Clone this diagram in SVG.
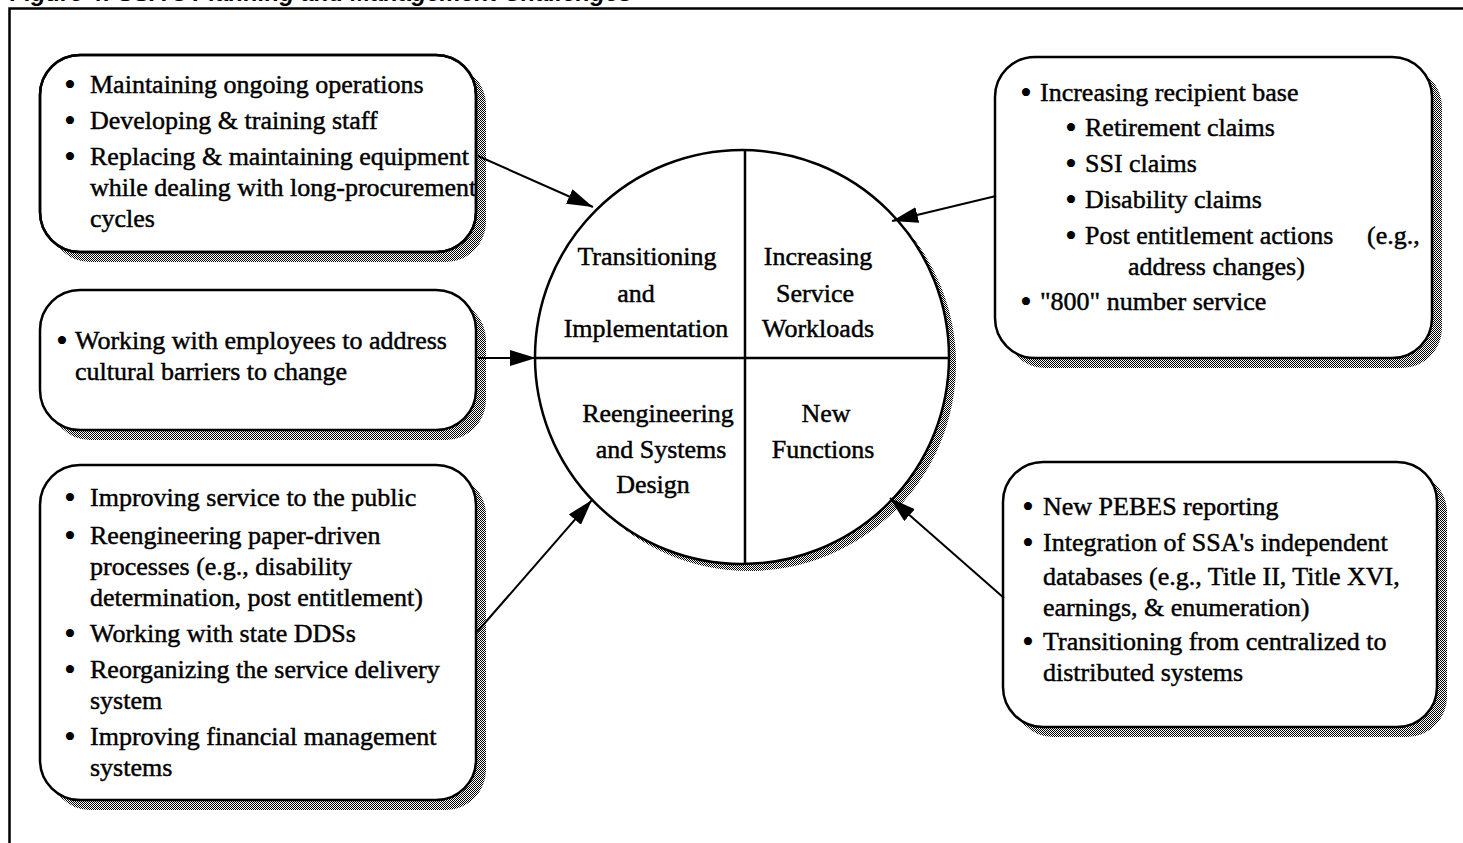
<svg xmlns="http://www.w3.org/2000/svg" width="1463" height="843" viewBox="0 0 1463 843">
  <style>
    .t { font-family: "Liberation Serif", "Times New Roman", serif; font-size: 26px; fill: #000; stroke: #000; stroke-width: 0.45; }
    .b { font-family: "Liberation Serif", "Times New Roman", serif; font-size: 34px; fill: #000; }
    .c { text-anchor: middle; }
    .title { font-family: "Liberation Sans", Arial, sans-serif; font-size: 24px; font-weight: bold; font-style: italic; fill: #000; }
    .box { fill: #fff; stroke: #000; stroke-width: 2.5; }
    .shadow { fill: url(#dither); }
    .frame { stroke: #000; stroke-width: 2.5; fill: none; }
    .conn { stroke: #000; stroke-width: 2; fill: none; marker-end: url(#arrow); }
  </style>
  <defs>
    <pattern id="dither" width="2" height="2" patternUnits="userSpaceOnUse">
      <rect width="2" height="2" fill="#fff"/>
      <rect width="1" height="1" fill="#000"/>
      <rect x="1" y="1" width="1" height="1" fill="#000"/>
    </pattern>
    <marker id="arrow" markerUnits="userSpaceOnUse" markerWidth="28" markerHeight="18" refX="26" refY="8" orient="auto">
      <path d="M0,0 L26,8 L0,16 Z" fill="#000"/>
    </marker>
    <clipPath id="clip-b1">
      <rect x="40" y="55" width="436" height="197" rx="40"/>
    </clipPath>
  </defs>

  <rect width="1463" height="843" fill="#fff"/>

  <!-- page heading, trimmed at the top edge -->
  <text class="title" x="10" y="1">Figure 4: SSA's Planning and Management Challenges</text>

  <!-- figure frame -->
  <path class="frame" d="M9.5,843 V8.5 H1463"/>

  <!-- central circle with four quadrants -->
  <g id="hub">
    <circle cx="749" cy="364" r="207" class="shadow"/>
    <circle cx="742" cy="357" r="207" fill="#fff" stroke="#000" stroke-width="2.5"/>
    <line x1="745" y1="150" x2="745" y2="564" stroke="#000" stroke-width="2.5"/>
    <line x1="535" y1="358" x2="949" y2="358" stroke="#000" stroke-width="2.5"/>
    <text class="t c" x="647" y="265">Transitioning</text>
    <text class="t c" x="636" y="302">and</text>
    <text class="t c" x="646" y="337">Implementation</text>
    <text class="t c" x="818" y="265">Increasing</text>
    <text class="t c" x="815" y="302">Service</text>
    <text class="t c" x="818" y="337">Workloads</text>
    <text class="t c" x="658" y="422">Reengineering</text>
    <text class="t c" x="661" y="458">and Systems</text>
    <text class="t c" x="653" y="493">Design</text>
    <text class="t c" x="826" y="422">New</text>
    <text class="t c" x="823" y="458">Functions</text>
  </g>

  <!-- top-left box -->
  <g id="box-operations">
    <rect class="shadow" x="50" y="65" width="436" height="197" rx="40"/>
    <rect class="box" x="40" y="55" width="436" height="197" rx="40"/>
    <g clip-path="url(#clip-b1)">
      <text class="b" x="64" y="96">•</text>
      <text class="t" x="90" y="93">Maintaining ongoing operations</text>
      <text class="b" x="64" y="132">•</text>
      <text class="t" x="90" y="129">Developing &amp; training staff</text>
      <text class="b" x="64" y="168">•</text>
      <text class="t" x="90" y="165">Replacing &amp; maintaining equipment</text>
      <text class="t" x="90" y="196">while dealing with long-procurement</text>
      <text class="t" x="90" y="227">cycles</text>
    </g>
    <rect x="40" y="55" width="436" height="197" rx="40" fill="none" stroke="#000" stroke-width="2.5"/>
  </g>

  <!-- middle-left box -->
  <g id="box-culture">
    <rect class="shadow" x="50" y="300" width="436" height="140" rx="40"/>
    <rect class="box" x="40" y="290" width="436" height="140" rx="40"/>
    <text class="b" x="56" y="352">•</text>
    <text class="t" x="75" y="349">Working with employees to address</text>
    <text class="t" x="75" y="380">cultural barriers to change</text>
  </g>

  <!-- bottom-left box -->
  <g id="box-reengineering">
    <rect class="shadow" x="50" y="475" width="436" height="335" rx="40"/>
    <rect class="box" x="40" y="465" width="436" height="335" rx="40"/>
    <text class="b" x="64" y="509">•</text>
    <text class="t" x="90" y="506">Improving service to the public</text>
    <text class="b" x="64" y="547">•</text>
    <text class="t" x="90" y="544">Reengineering paper-driven</text>
    <text class="t" x="90" y="575">processes (e.g., disability</text>
    <text class="t" x="90" y="606">determination, post entitlement)</text>
    <text class="b" x="64" y="645">•</text>
    <text class="t" x="90" y="642">Working with state DDSs</text>
    <text class="b" x="64" y="681">•</text>
    <text class="t" x="90" y="678">Reorganizing the service delivery</text>
    <text class="t" x="90" y="709">system</text>
    <text class="b" x="64" y="748">•</text>
    <text class="t" x="90" y="745">Improving financial management</text>
    <text class="t" x="90" y="776">systems</text>
  </g>

  <!-- top-right box -->
  <g id="box-workloads">
    <rect class="shadow" x="1005" y="67" width="437" height="301" rx="40"/>
    <rect class="box" x="995" y="57" width="437" height="301" rx="40"/>
    <text class="b" x="1020" y="104">•</text>
    <text class="t" x="1040" y="101">Increasing recipient base</text>
    <text class="b" x="1065" y="139">•</text>
    <text class="t" x="1085" y="136">Retirement claims</text>
    <text class="b" x="1065" y="175">•</text>
    <text class="t" x="1085" y="172">SSI claims</text>
    <text class="b" x="1065" y="211">•</text>
    <text class="t" x="1085" y="208">Disability claims</text>
    <text class="b" x="1065" y="247">•</text>
    <text class="t" x="1085" y="244">Post entitlement actions</text>
    <text class="t" x="1367" y="244">(e.g.,</text>
    <text class="t" x="1128" y="275">address changes)</text>
    <text class="b" x="1020" y="313">•</text>
    <text class="t" x="1040" y="310">"800" number service</text>
  </g>

  <!-- bottom-right box -->
  <g id="box-functions">
    <rect class="shadow" x="1013" y="472" width="434" height="265" rx="40"/>
    <rect class="box" x="1003" y="462" width="434" height="265" rx="40"/>
    <text class="b" x="1022" y="518">•</text>
    <text class="t" x="1043" y="515">New PEBES reporting</text>
    <text class="b" x="1022" y="554">•</text>
    <text class="t" x="1043" y="551">Integration of SSA's independent</text>
    <text class="t" x="1043" y="585">databases (e.g., Title II, Title XVI,</text>
    <text class="t" x="1043" y="616">earnings, &amp; enumeration)</text>
    <text class="b" x="1022" y="653">•</text>
    <text class="t" x="1043" y="650">Transitioning from centralized to</text>
    <text class="t" x="1043" y="681">distributed systems</text>
  </g>

  <!-- connectors into the circle -->
  <g id="connectors">
    <line class="conn" x1="478" y1="156" x2="593" y2="207"/>
    <line class="conn" x1="478" y1="358" x2="536" y2="358"/>
    <line class="conn" x1="477" y1="632" x2="592" y2="500"/>
    <line class="conn" x1="996" y1="196" x2="892" y2="221"/>
    <line class="conn" x1="1004" y1="598" x2="890" y2="498"/>
  </g>
</svg>
